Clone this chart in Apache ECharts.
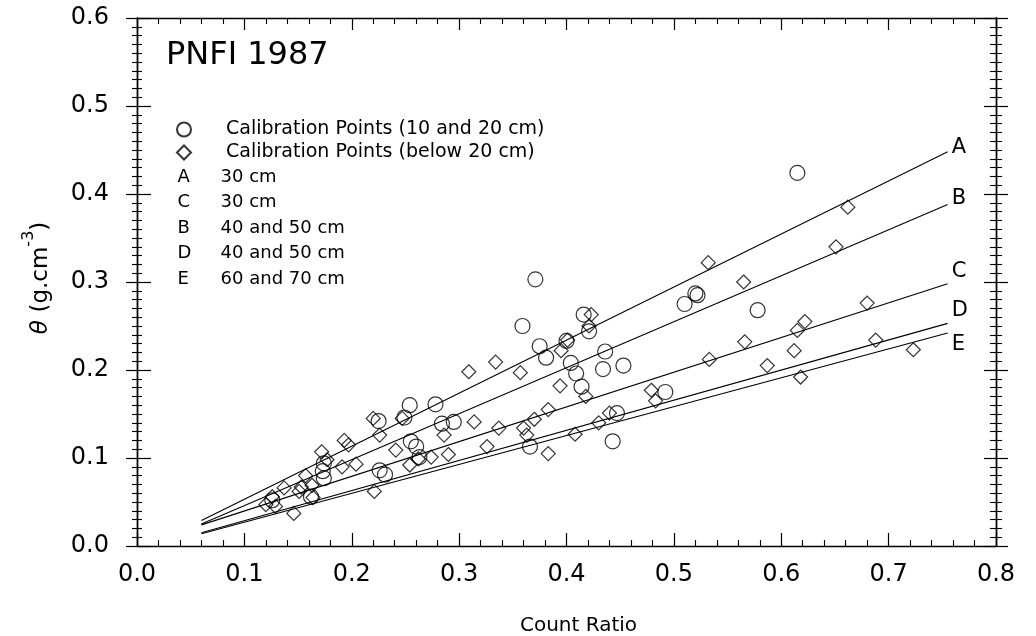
<!DOCTYPE html>
<html>
<head>
<meta charset="utf-8">
<script src="https://cdn.jsdelivr.net/npm/echarts@6/dist/echarts.min.js"></script>
<style>
  html, body { margin: 0; padding: 0; background: #ffffff; }
  #chart { width: 1036px; height: 636px; }
</style>
</head>
<body>
<div id="chart"></div>
<script>
// Calibration points, [count ratio, theta]
const circlePoints = [
  [0.615, 0.424], [0.371, 0.303], [0.359, 0.250], [0.416, 0.263], [0.421, 0.244],
  [0.510, 0.275], [0.520, 0.287], [0.522, 0.285], [0.578, 0.268], [0.375, 0.227],
  [0.381, 0.214], [0.400, 0.233], [0.404, 0.208], [0.409, 0.196], [0.414, 0.181],
  [0.436, 0.221], [0.434, 0.201], [0.453, 0.205], [0.492, 0.175], [0.447, 0.151],
  [0.443, 0.119], [0.366, 0.113], [0.254, 0.160], [0.278, 0.161], [0.284, 0.139],
  [0.295, 0.141], [0.255, 0.119], [0.260, 0.113], [0.226, 0.086], [0.231, 0.081],
  [0.225, 0.142], [0.249, 0.146], [0.174, 0.077], [0.173, 0.085], [0.174, 0.094],
  [0.263, 0.101], [0.126, 0.052], [0.162, 0.056]
];

const diamondPoints = [
  [0.662, 0.385], [0.651, 0.340], [0.532, 0.322], [0.565, 0.300], [0.423, 0.263],
  [0.421, 0.250], [0.680, 0.276], [0.622, 0.255], [0.615, 0.245], [0.566, 0.232],
  [0.533, 0.212], [0.612, 0.222], [0.587, 0.205], [0.618, 0.192], [0.688, 0.234],
  [0.723, 0.223], [0.479, 0.177], [0.483, 0.165], [0.357, 0.197], [0.394, 0.182],
  [0.395, 0.222], [0.401, 0.234], [0.418, 0.170], [0.440, 0.151], [0.430, 0.140],
  [0.408, 0.127], [0.383, 0.105], [0.363, 0.126], [0.360, 0.134], [0.370, 0.144],
  [0.383, 0.155], [0.337, 0.134], [0.334, 0.209], [0.309, 0.198], [0.314, 0.141],
  [0.326, 0.113], [0.290, 0.104], [0.274, 0.101], [0.262, 0.099], [0.254, 0.092],
  [0.286, 0.126], [0.241, 0.109], [0.220, 0.145], [0.226, 0.126], [0.247, 0.145],
  [0.193, 0.120], [0.197, 0.115], [0.191, 0.090], [0.204, 0.093], [0.221, 0.062],
  [0.172, 0.107], [0.177, 0.098], [0.157, 0.080], [0.163, 0.069], [0.137, 0.066],
  [0.151, 0.062], [0.146, 0.037], [0.126, 0.056], [0.120, 0.047], [0.129, 0.045],
  [0.164, 0.055], [0.153, 0.067]
];

// Calibration lines: theta at the two ends of the fitted range
const lineKeys = ['A', 'B', 'C', 'D', 'E'];
const lineRange = [0.06, 0.755];
const lineStart = [0.029, 0.025, 0.024, 0.015, 0.014];
const lineEnd = [0.448, 0.388, 0.298, 0.253, 0.242];
const lineLabelShift = [-4, -6, -12, -13, 12];

// Legend text for the lines
const legendOrder = ['A', 'C', 'B', 'D', 'E'];
const lineDepths = { A: '30 cm', C: '30 cm', B: '40 and 50 cm', D: '40 and 50 cm', E: '60 and 70 cm' };

const circleName = 'Calibration Points (10 and 20 cm)';
const diamondName = 'Calibration Points (below 20 cm)';

const xMin = 0, xMax = 0.8, xStep = 0.1;
const yMin = 0, yMax = 0.6, yStep = 0.1;

const FONT = 'DejaVu Sans';
const INK = '#000';

function yAxisSide(position, inside, showLabels, majorLen, minorLen) {
  return {
    type: 'value', position: position, min: yMin, max: yMax, interval: yStep,
    axisLine: { show: true, onZero: false, lineStyle: { color: INK, width: 1.4 } },
    axisTick: { show: true, inside: inside, length: majorLen, lineStyle: { color: INK, width: 1.2 } },
    minorTick: { show: true, splitNumber: 10, length: minorLen, lineStyle: { color: INK, width: 1.1 } },
    axisLabel: {
      show: showLabels, margin: 28, color: INK, fontFamily: FONT, fontSize: 24,
      formatter: v => v.toFixed(1)
    },
    splitLine: { show: false },
    minorSplitLine: { show: false }
  };
}

function xAxisSide(position, showLabels, majorLen) {
  return {
    type: 'value', position: position, min: xMin, max: xMax, interval: xStep,
    axisLine: { show: true, onZero: false, lineStyle: { color: INK, width: 1.4 } },
    axisTick: { show: true, inside: true, length: majorLen, lineStyle: { color: INK, width: 1.2 } },
    minorTick: { show: true, splitNumber: 5, length: 6, lineStyle: { color: INK, width: 1.1 } },
    axisLabel: {
      show: showLabels, margin: 17, color: INK, fontFamily: FONT, fontSize: 24,
      formatter: v => v.toFixed(1)
    },
    splitLine: { show: false },
    minorSplitLine: { show: false }
  };
}

const xBottom = xAxisSide('bottom', true, 13);
xBottom.name = 'Count Ratio';
xBottom.nameLocation = 'middle';
xBottom.nameGap = 70;
xBottom.nameTextStyle = { color: INK, fontFamily: FONT, fontSize: 20, padding: [0, 0, 0, 24] };

const yLeft = yAxisSide('left', false, true, 11, 5);
yLeft.name = '{t|θ}  {n|(g.cm}{s|-3}{n|)}';
yLeft.nameLocation = 'middle';
yLeft.nameGap = 84;
yLeft.nameRotate = 90;
yLeft.nameTextStyle = {
  color: INK, fontFamily: FONT, padding: [0, 0, 0, 8],
  rich: {
    t: { fontSize: 23, fontStyle: 'italic', fontFamily: FONT, color: INK, verticalAlign: 'bottom', lineHeight: 32 },
    n: { fontSize: 23, fontFamily: FONT, color: INK, verticalAlign: 'bottom', lineHeight: 32 },
    s: { fontSize: 16, fontFamily: FONT, color: INK, verticalAlign: 'top', lineHeight: 32 }
  }
};

const lineSeries = lineKeys.map((key, i) => ({
  name: key,
  type: 'line',
  data: [[lineRange[0], lineStart[i]], [lineRange[1], lineEnd[i]]],
  showSymbol: false,
  symbol: 'none',
  silent: true,
  lineStyle: { color: INK, width: 1.1 },
  itemStyle: { color: INK },
  endLabel: {
    show: true, formatter: key, distance: 4, offset: [0, lineLabelShift[i]],
    color: INK, fontFamily: FONT, fontSize: 21
  },
  z: 2
}));

const option = {
  animation: false,
  backgroundColor: '#ffffff',
  title: {
    text: 'PNFI 1987', left: 166, top: 40, padding: 0,
    textStyle: { color: INK, fontFamily: FONT, fontSize: 32, fontWeight: 'normal' }
  },
  grid: { left: 137, right: 40, top: 18, bottom: 90, containLabel: false, outerBoundsMode: 'none' },
  legend: [
    {
      data: [circleName, diamondName],
      orient: 'vertical', left: 176, top: 120, padding: 0,
      itemWidth: 14, itemHeight: 14, itemGap: 4,
      selectedMode: false,
      formatter: name => '{t|' + name + '}',
      textStyle: {
        color: INK, fontFamily: FONT, fontSize: 19,
        rich: { t: { color: INK, fontFamily: FONT, fontSize: 19, padding: [0, 0, 0, 30] } }
      }
    },
    {
      data: legendOrder,
      orient: 'vertical', left: 167, top: 168, padding: 0,
      itemWidth: 0, itemHeight: 14, itemGap: 7.5,
      selectedMode: false,
      itemStyle: { opacity: 0 },
      lineStyle: { opacity: 0 },
      formatter: name => '{k|' + name + '}{v|' + lineDepths[name] + '}',
      textStyle: {
        color: INK, fontFamily: FONT, fontSize: 18,
        rich: {
          k: { color: INK, fontFamily: FONT, fontSize: 18, width: 43 },
          v: { color: INK, fontFamily: FONT, fontSize: 18 }
        }
      }
    }
  ],
  xAxis: [xBottom, xAxisSide('top', false, 12)],
  yAxis: [
    yLeft,
    yAxisSide('left', true, false, 14, 5),
    yAxisSide('right', false, false, 12, 6),
    yAxisSide('right', true, false, 12, 6)
  ],
  series: [
    {
      name: circleName, type: 'scatter', data: circlePoints,
      symbol: 'circle', symbolSize: 15, silent: true,
      itemStyle: { color: 'transparent', borderColor: INK, borderWidth: 1.2 },
      z: 3
    },
    {
      name: diamondName, type: 'scatter', data: diamondPoints,
      symbol: 'diamond', symbolSize: 14, silent: true,
      itemStyle: { color: 'transparent', borderColor: INK, borderWidth: 1.2 },
      z: 3
    }
  ].concat(lineSeries)
};

const chart = echarts.init(document.getElementById('chart'), null, { renderer: 'canvas' });
chart.setOption(option);
</script>
</body>
</html>
